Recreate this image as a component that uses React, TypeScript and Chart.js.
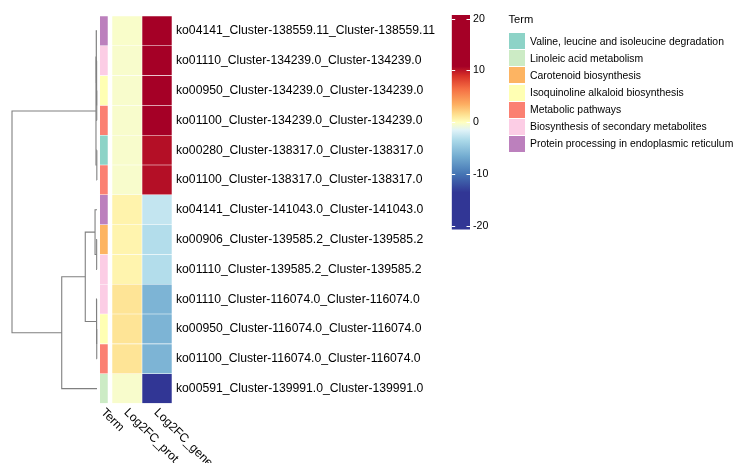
import React, { useEffect, useRef } from "react";
import { Chart, registerables } from "chart.js";
Chart.register(...registerables);

const W = 733;
const H = 463;
const FONT = "'Liberation Sans', Arial, sans-serif";

// ---- data ----
const rowLabels = [
  "ko04141_Cluster-138559.11_Cluster-138559.11",
  "ko01110_Cluster-134239.0_Cluster-134239.0",
  "ko00950_Cluster-134239.0_Cluster-134239.0",
  "ko01100_Cluster-134239.0_Cluster-134239.0",
  "ko00280_Cluster-138317.0_Cluster-138317.0",
  "ko01100_Cluster-138317.0_Cluster-138317.0",
  "ko04141_Cluster-141043.0_Cluster-141043.0",
  "ko00906_Cluster-139585.2_Cluster-139585.2",
  "ko01110_Cluster-139585.2_Cluster-139585.2",
  "ko01110_Cluster-116074.0_Cluster-116074.0",
  "ko00950_Cluster-116074.0_Cluster-116074.0",
  "ko01100_Cluster-116074.0_Cluster-116074.0",
  "ko00591_Cluster-139991.0_Cluster-139991.0",
];
const rowTerms = [
  "Protein processing in endoplasmic reticulum",
  "Biosynthesis of secondary metabolites",
  "Isoquinoline alkaloid biosynthesis",
  "Metabolic pathways",
  "Valine, leucine and isoleucine degradation",
  "Metabolic pathways",
  "Protein processing in endoplasmic reticulum",
  "Carotenoid biosynthesis",
  "Biosynthesis of secondary metabolites",
  "Biosynthesis of secondary metabolites",
  "Isoquinoline alkaloid biosynthesis",
  "Metabolic pathways",
  "Linoleic acid metabolism",
];
const log2fcProt = [-0.3, -0.35, -0.35, -0.35, -0.35, -0.35, 0.6, 0.55, 0.55, 1.3, 1.3, 1.3, -0.35];
const log2fcGene = [16, 15, 15, 15, 10.25, 10.25, -2.6, -3.2, -3.2, -6.0, -6.0, -6.0, -18];

const termNames = [
  "Valine, leucine and isoleucine degradation",
  "Linoleic acid metabolism",
  "Carotenoid biosynthesis",
  "Isoquinoline alkaloid biosynthesis",
  "Metabolic pathways",
  "Biosynthesis of secondary metabolites",
  "Protein processing in endoplasmic reticulum",
];
const termColors = ["#8DD3C7", "#CCEBC5", "#FDB462", "#FFFFB3", "#FB8072", "#FCCDE5", "#BC80BD"];

const columnLabels = ["Term", "Log2FC_prot", "Log2FC_gene"];
const colorbarTicks = [20, 10, 0, -10, -20];
const colorbarMin = -20.7;
const colorbarMax = 20.7;

const paletteValues = [-20.7, -13.5, -10, -6.5, -3.5, -1.5, 0, 1.5, 3.5, 6.5, 9, 10.8, 20.7];
const paletteColors = [
  "#313695", "#313695", "#4575B4", "#74ADD1", "#ABD9E9", "#E0F3F8", "#FFFFBF",
  "#FEE090", "#FDAE61", "#F46D43", "#D73027", "#A50026", "#A50026",
];

// dendrogram (hclust-style merges: negative = leaf, positive = earlier merge)
const mergeLeft = [-3, -2, -1, -5, 3, -8, -7, -11, -10, 7, 10, 5];
const mergeRight = [-4, 1, 2, -6, 4, -9, 6, -12, 8, 9, -13, 11];
const mergeHeight = [0.3, 0.6, 0.9, 0.2, 1.2, 0.4, 2.3, 0.3, 0.6, 13.8, 41.5, 100];

// ---- layout (pixels) ----
const gridTop = 16;
const gridBottom = 403.5;

function hexToRgb(h: string) {
  const n = parseInt(h.slice(1), 16);
  return [(n >> 16) & 255, (n >> 8) & 255, n & 255];
}
function colorFor(v: number) {
  if (v <= paletteValues[0]) return paletteColors[0];
  for (let i = 1; i < paletteValues.length; i++) {
    if (v <= paletteValues[i]) {
      const t = (v - paletteValues[i - 1]) / (paletteValues[i] - paletteValues[i - 1]);
      const a = hexToRgb(paletteColors[i - 1]);
      const b = hexToRgb(paletteColors[i]);
      const c = a.map((x, k) => Math.round(x + (b[k] - x) * t));
      return `rgb(${c[0]},${c[1]},${c[2]})`;
    }
  }
  return paletteColors[paletteColors.length - 1];
}

function dendroSegments() {
  const nodes: { y: number; h: number }[] = [];
  const get = (r: number) => (r < 0 ? { y: -r - 1, h: 0 } : nodes[r - 1]);
  const segs: { x: number; y: number }[][] = [];
  for (let k = 0; k < mergeLeft.length; k++) {
    const a = get(mergeLeft[k]);
    const b = get(mergeRight[k]);
    const h = mergeHeight[k];
    segs.push([
      { x: a.h, y: a.y },
      { x: h, y: a.y },
      { x: h, y: b.y },
      { x: b.h, y: b.y },
    ]);
    nodes.push({ y: (a.y + b.y) / 2, h });
  }
  return segs;
}

const canvasStyle: React.CSSProperties = { position: "absolute", left: 0, top: 0, width: W, height: H };

export default function App() {
  const dRef = useRef<HTMLCanvasElement>(null);
  const hRef = useRef<HTMLCanvasElement>(null);
  const cRef = useRef<HTMLCanvasElement>(null);

  useEffect(() => {
    const charts: Chart[] = [];

    // dendrogram
    const segs = dendroSegments();
    charts.push(
      new Chart(dRef.current!, {
        type: "scatter",
        data: {
          datasets: segs.map((s) => ({
            data: s,
            showLine: true,
            pointRadius: 0,
            borderColor: "#808080",
            borderWidth: 1.1,
            clip: false as any,
          })),
        },
        options: {
          animation: false,
          responsive: false,
          events: [],
          layout: { padding: { left: 12, right: W - 97, top: gridTop, bottom: H - gridBottom } },
          plugins: { legend: { display: false }, tooltip: { enabled: false } },
          scales: {
            x: { type: "linear", min: 0, max: 100, reverse: true, display: false },
            y: { type: "linear", min: -0.5, max: rowLabels.length - 0.5, reverse: true, display: false },
          },
        },
      })
    );

    // heatmap
    const colSpan = [
      [0, 0.277],
      [0.41, 1.41],
      [1.41, 2.41],
    ];
    const colLabelPlugin = {
      id: "colLabels",
      afterDraw(chart: any) {
        const { ctx, chartArea, scales } = chart;
        ctx.save();
        ctx.font = `12.2px ${FONT}`;
        ctx.fillStyle = "#000";
        ctx.textAlign = "left";
        ctx.textBaseline = "middle";
        columnLabels.forEach((lab, i) => {
          const x = scales.x.getPixelForValue((colSpan[i][0] + colSpan[i][1]) / 2);
          ctx.save();
          ctx.translate(x - 1, chartArea.bottom + 7);
          ctx.rotate(Math.PI / 4);
          ctx.fillText(lab, 0, 0);
          ctx.restore();
        });
        ctx.restore();
      },
    };
    charts.push(
      new Chart(hRef.current!, {
        type: "bar",
        data: {
          labels: rowLabels,
          datasets: [
            {
              data: rowLabels.map(() => colSpan[0] as [number, number]),
              backgroundColor: rowTerms.map((t) => termColors[termNames.indexOf(t)]),
            },
            {
              data: rowLabels.map(() => colSpan[1] as [number, number]),
              backgroundColor: log2fcProt.map(colorFor),
            },
            {
              data: rowLabels.map(() => colSpan[2] as [number, number]),
              backgroundColor: log2fcGene.map(colorFor),
            },
          ].map((d) => ({
            ...d,
            barPercentage: 1,
            categoryPercentage: 1,
            grouped: false,
            borderWidth: 0.6,
            borderColor: "rgba(255,255,255,0.18)",
            borderSkipped: false as any,
          })),
        },
        options: {
          animation: false,
          responsive: false,
          events: [],
          indexAxis: "y",
          layout: { padding: { left: 99.7, right: 0, top: gridTop, bottom: H - gridBottom } },
          plugins: { legend: { display: false }, tooltip: { enabled: false } },
          scales: {
            x: { type: "linear", min: 0, max: 2.41, display: false },
            y: {
              type: "category",
              position: "right",
              grid: { display: false, drawTicks: false },
              border: { display: false },
              ticks: { autoSkip: false, padding: 4, color: "#000", font: { family: FONT, size: 12.2 } },
              afterFit: (s: any) => {
                s.width = W - 172;
              },
            },
          },
        },
        plugins: [colLabelPlugin],
      })
    );

    // colour bar
    const dashPlugin = {
      id: "dashes",
      afterDatasetsDraw(chart: any) {
        const { ctx, chartArea, scales } = chart;
        ctx.save();
        ctx.strokeStyle = "#fff";
        ctx.lineWidth = 1;
        colorbarTicks.forEach((t) => {
          const y = Math.round(scales.y.getPixelForValue(t)) + 0.5;
          ctx.beginPath();
          ctx.moveTo(chartArea.left, y);
          ctx.lineTo(chartArea.left + 3.5, y);
          ctx.moveTo(chartArea.right - 3.5, y);
          ctx.lineTo(chartArea.right, y);
          ctx.stroke();
        });
        ctx.restore();
      },
    };
    charts.push(
      new Chart(cRef.current!, {
        type: "bar",
        data: {
          labels: [""],
          datasets: [
            {
              data: [[colorbarMin, colorbarMax]],
              barPercentage: 1,
              categoryPercentage: 1,
              borderWidth: 0,
              backgroundColor: (c: any) => {
                const chart = c.chart;
                const { ctx, chartArea, scales } = chart;
                if (!chartArea) return "#fff";
                const y0 = scales.y.getPixelForValue(colorbarMin);
                const y1 = scales.y.getPixelForValue(colorbarMax);
                const g = ctx.createLinearGradient(0, y0, 0, y1);
                paletteValues.forEach((v, i) => {
                  const p = (scales.y.getPixelForValue(v) - y0) / (y1 - y0);
                  g.addColorStop(Math.min(1, Math.max(0, p)), paletteColors[i]);
                });
                return g;
              },
            },
          ],
        },
        options: {
          animation: false,
          responsive: false,
          events: [],
          layout: { padding: { left: 451.7, right: 0, top: 15, bottom: H - 229.6 } },
          plugins: { legend: { display: false }, tooltip: { enabled: false } },
          scales: {
            x: { display: false },
            y: {
              type: "linear",
              min: colorbarMin,
              max: colorbarMax,
              position: "right",
              grid: { display: false, drawTicks: false },
              border: { display: false },
              ticks: {
                stepSize: 10,
                includeBounds: false,
                padding: 3,
                color: "#000",
                font: { family: FONT, size: 10.6 },
              },
              afterFit: (s: any) => {
                s.width = W - 470;
              },
            },
          },
        },
        plugins: [dashPlugin],
      })
    );

    return () => charts.forEach((c) => c.destroy());
  }, []);

  return (
    <div style={{ position: "fixed", left: 0, top: 0, width: W, height: H, background: "#fff", overflow: "hidden" }}>
      <canvas ref={dRef} width={W} height={H} style={canvasStyle} />
      <canvas ref={hRef} width={W} height={H} style={canvasStyle} />
      <canvas ref={cRef} width={W} height={H} style={canvasStyle} />
      <div
        style={{
          position: "absolute",
          left: 508.5,
          top: 12,
          fontFamily: FONT,
          fontSize: 11.2,
          color: "#000",
          lineHeight: "14px",
        }}
      >
        Term
      </div>
      {termNames.map((t, i) => (
        <div
          key={t}
          style={{
            position: "absolute",
            left: 509,
            top: 33.3 + i * 17.07,
            height: 16,
            display: "flex",
            alignItems: "center",
            whiteSpace: "nowrap",
            fontFamily: FONT,
            fontSize: 10.4,
            color: "#000",
          }}
        >
          <div style={{ width: 16, height: 16, background: termColors[i] }} />
          <span style={{ marginLeft: 5 }}>{t}</span>
        </div>
      ))}
    </div>
  );
}
